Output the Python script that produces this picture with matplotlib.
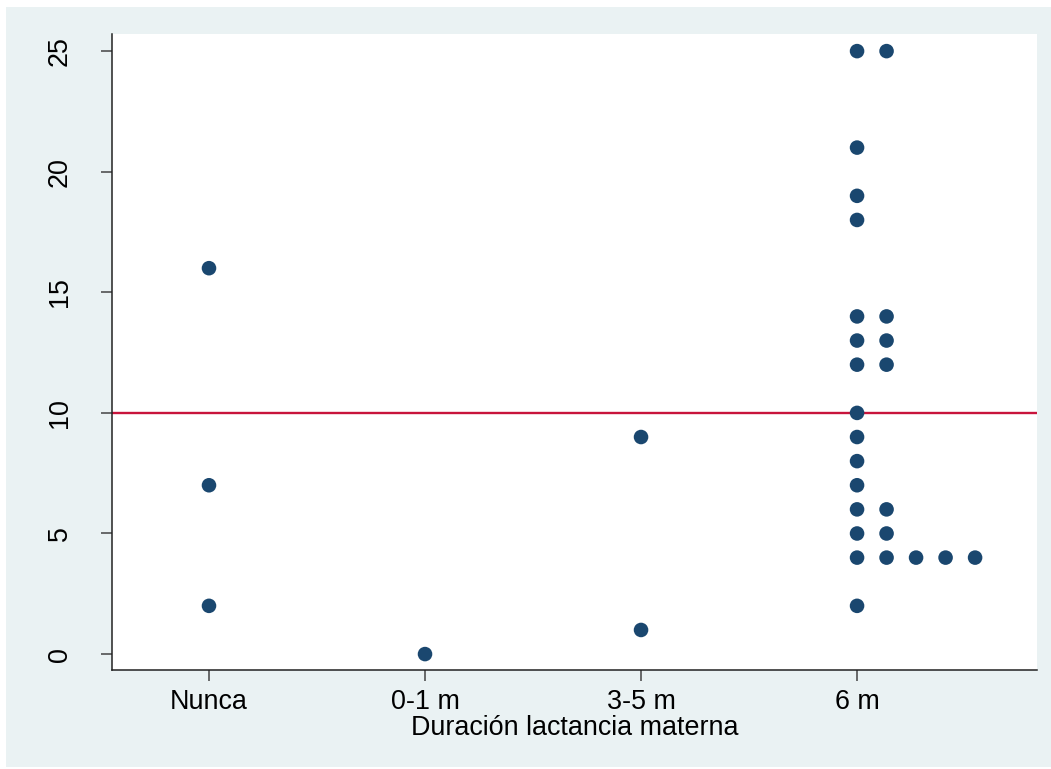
import matplotlib
matplotlib.use('Agg')
import matplotlib.pyplot as plt
from matplotlib.patches import Rectangle
import numpy as np

plt.rcParams['font.family'] = ['Liberation Sans', 'DejaVu Sans']

# Data
categories = ['Nunca', '0-1 m', '3-5 m', '6 m']
nunca = [2, 7, 16]
m0_1 = [0]
m3_5 = [1, 9]
m6 = [2, 4, 4, 4, 4, 4, 5, 5, 6, 6, 7, 8, 9, 10, 12, 12, 13, 13,
      14, 14, 18, 19, 21, 25, 25]
groups = [nunca, m0_1, m3_5, m6]
ref_value = 10

dot_step = 0.1366  # horizontal shift for repeated values
dot_color = '#1A476F'
line_color = '#C8143C'
bg_color = '#EAF2F3'

fig = plt.figure(figsize=(10.51, 7.69), dpi=100, facecolor='white')
fig.patches.append(Rectangle((6 / 1051, 2 / 769), 1, 760 / 769,
                             transform=fig.transFigure, facecolor=bg_color,
                             edgecolor='none', zorder=-10))
ax = fig.add_axes([112 / 1051, 99 / 769, 925 / 1051, 636 / 769])
ax.set_facecolor('white')

# stack repeated values to the right of the category position
for i, vals in enumerate(groups):
    xs, ys = [], []
    seen = {}
    for v in vals:
        k = seen.get(v, 0)
        seen[v] = k + 1
        xs.append(i + 1 + k * dot_step)
        ys.append(v)
    ax.scatter(xs, ys, s=110, color=dot_color, edgecolors='none', zorder=3)

ax.axhline(ref_value, color=line_color, linewidth=1.7, zorder=2)

ax.set_xlim(0.551, 4.833)
ax.set_ylim(-0.66, 25.71)
ax.set_xticks(range(1, len(categories) + 1))
ax.set_xticklabels(categories)
ax.set_yticks([0, 5, 10, 15, 20, 25])
ax.set_yticklabels(['0', '5', '10', '15', '20', '25'], rotation=90, va='center')

for s in ['top', 'right']:
    ax.spines[s].set_visible(False)
for s in ['left', 'bottom']:
    ax.spines[s].set_color('#222222')
    ax.spines[s].set_linewidth(1.1)

ax.tick_params(axis='both', direction='out', length=8, width=1.1,
               color='#444444', labelsize=19.4, labelcolor='black')
ax.tick_params(axis='y', pad=20)
ax.tick_params(axis='x', pad=6)

ax.set_xlabel('Duración lactancia materna', fontsize=19.4, labelpad=0)

fig.savefig('out.png', dpi=100, facecolor=fig.get_facecolor())
